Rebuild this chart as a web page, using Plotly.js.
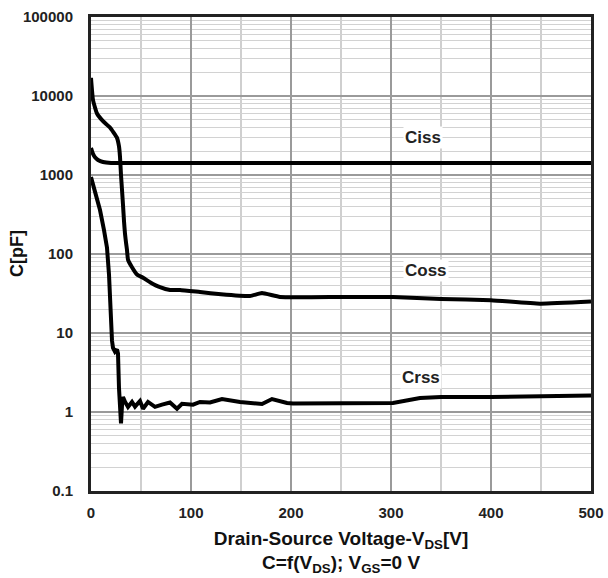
<!DOCTYPE html>
<html>
<head>
<meta charset="utf-8">
<script src="https://cdn.plot.ly/plotly-3.0.1.min.js"></script>
<style>html,body{margin:0;padding:0;background:#fff;}#chart{width:608px;height:578px;}</style>
</head>
<body>
<div id="chart"></div>
<script>
// Ciss
const cissV = [0, 1, 2, 4, 7, 12, 20, 100, 200, 300, 400, 500];
const cissC = [2200, 2000, 1850, 1680, 1550, 1460, 1420, 1420, 1420, 1420, 1420, 1420];
// Coss
const cossV = [0, 2, 6, 12, 19, 26, 28, 29, 30, 31, 32, 33, 34, 35, 36, 37, 41, 46, 52, 59, 69, 79, 89, 109, 130, 159, 171, 189, 250, 302, 350, 400, 449, 500];
const cossC = [17000, 8900, 6000, 4800, 4000, 2950, 2300, 1700, 1000, 650, 420, 260, 180, 140, 112, 85, 68, 55, 50, 44, 38, 35, 35, 33, 31, 29.4, 32, 28.6, 28.6, 28.6, 27, 26, 23.5, 25];
// Crss
const crssV = [0, 4, 9, 13, 16, 18, 19, 20, 21, 22, 24, 26, 27, 28, 29, 30, 31, 32, 34, 37, 41, 44, 49, 52, 57, 64, 71, 79, 86, 91, 102, 109, 119, 131, 149, 162, 171, 181, 196, 202, 250, 289, 302, 329, 350, 400, 450, 500];
const crssC = [940, 620, 360, 200, 120, 55, 26, 12, 8, 6.5, 5.8, 6.2, 5.5, 2, 0.75, 0.72, 1.2, 1.55, 1.35, 1.16, 1.34, 1.17, 1.38, 1.1, 1.34, 1.16, 1.24, 1.32, 1.1, 1.27, 1.24, 1.34, 1.32, 1.46, 1.34, 1.3, 1.26, 1.46, 1.3, 1.28, 1.28, 1.28, 1.3, 1.5, 1.55, 1.55, 1.58, 1.62];

const labelNames = ['Ciss', 'Coss', 'Crss'];
const labelX = [332, 335, 330];
const labelY = [3000, 61, 2.7];

const xTicks = [0, 100, 200, 300, 400, 500];
const yTicks = [0.1, 1, 10, 100, 1000, 10000, 100000];
const yTickText = ['0.1', '1', '10', '100', '1000', '10000', '100000'];

const xTitle = 'Drain-Source Voltage-V<sub>DS</sub>[V]';
const xSubTitle = 'C=f(V<sub>DS</sub>); V<sub>GS</sub>=0 V';
const yTitle = 'C[pF]';

const FONT = 'Liberation Sans, Arial, sans-serif';
const lineStyle = {color: '#000', width: 4, shape: 'spline', smoothing: 0.4};

const traces = [
  {x: cissV, y: cissC, mode: 'lines', line: lineStyle, name: 'Ciss'},
  {x: cossV, y: cossC, mode: 'lines', line: lineStyle, name: 'Coss'},
  {x: crssV, y: crssC, mode: 'lines', line: {color: '#000', width: 4}, name: 'Crss'}
];

const annotations = labelNames.map((t, i) => ({
  x: labelX[i], y: Math.log10(labelY[i]), xref: 'x', yref: 'y',
  text: '<b>' + t + '</b>', showarrow: false, bgcolor: '#fff',
  font: {family: FONT, size: 17, color: '#222'}
}));
annotations.push({
  x: 0.5, y: 0, xref: 'paper', yref: 'paper', yanchor: 'middle', yshift: -73,
  text: '<b>' + xSubTitle + '</b>', showarrow: false,
  font: {family: FONT, size: 19, color: '#111'}
});
annotations.push({
  x: 0, y: 0.5, xref: 'paper', yref: 'paper', xanchor: 'center', yanchor: 'middle', xshift: -74,
  textangle: -90, text: '<b>' + yTitle + '</b>', showarrow: false,
  font: {family: FONT, size: 18, color: '#111'}
});

const layout = {
  width: 608, height: 578,
  margin: {l: 91, r: 17, t: 17, b: 87},
  paper_bgcolor: '#fff', plot_bgcolor: '#fff',
  showlegend: false,
  font: {family: FONT, color: '#222'},
  xaxis: {
    range: [0, 500], tickvals: xTicks, ticktext: xTicks.map(String),
    showgrid: true, gridcolor: '#9a9a9a', gridwidth: 1.5,
    minor: {dtick: 50, tick0: 0, showgrid: true, gridcolor: '#cfcfcf', gridwidth: 1.5},
    showline: true, linecolor: '#222', linewidth: 3, mirror: true,
    ticks: 'outside', ticklen: 6, tickcolor: 'rgba(0,0,0,0)',
    zeroline: false,
    tickfont: {family: FONT, size: 15, color: '#222', weight: 'bold'},
    title: {text: '<b>' + xTitle + '</b>',
            font: {family: FONT, size: 19, color: '#111'}, standoff: 12}
  },
  yaxis: {
    type: 'log', range: [-1, 5], tickvals: yTicks, ticktext: yTickText,
    showgrid: true, gridcolor: '#9a9a9a', gridwidth: 1.2,
    minor: {dtick: 'D1', showgrid: true, gridcolor: '#d2d2d2', gridwidth: 1.2},
    showline: true, linecolor: '#222', linewidth: 3, mirror: true,
    ticks: 'outside', ticklen: 12, tickcolor: 'rgba(0,0,0,0)',
    zeroline: false,
    tickfont: {family: FONT, size: 15, color: '#222', weight: 'bold'}
  },
  annotations: annotations
};

Plotly.newPlot('chart', traces, layout, {displayModeBar: false, staticPlot: true});
</script>
</body>
</html>
